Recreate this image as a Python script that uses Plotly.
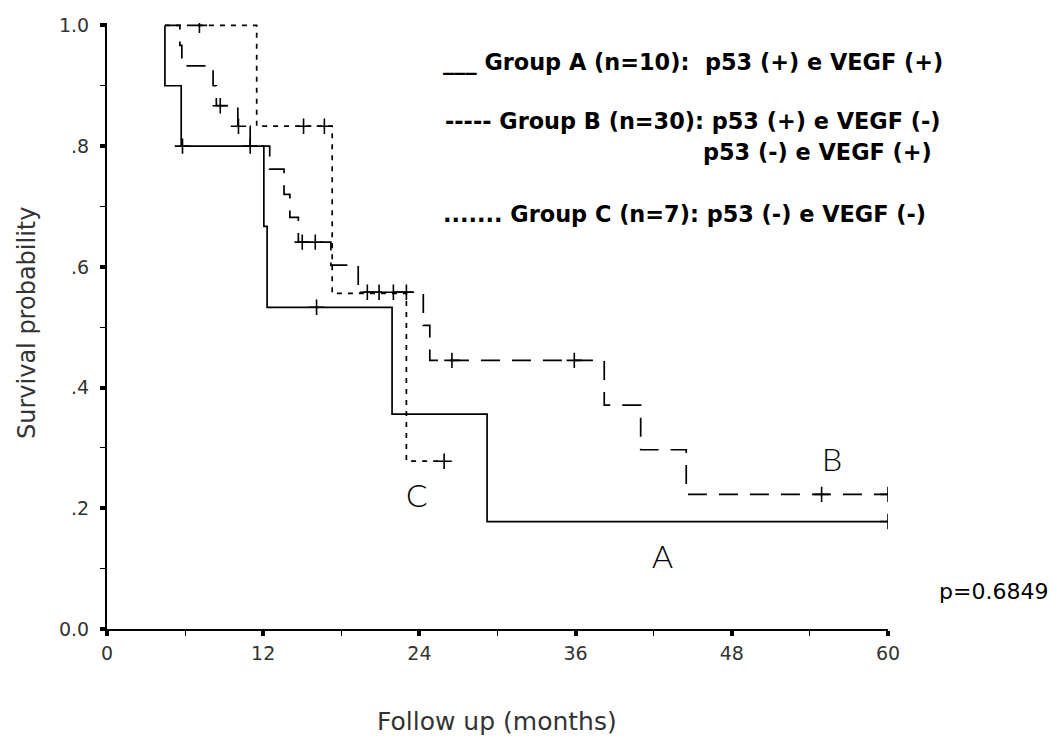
import plotly.graph_objects as go

# ---------------- data ----------------
start_t = 4.45

# Group A (solid)
a_event_t = [4.45, 5.7, 12.05, 12.3, 21.9, 29.2]
a_event_s = [0.9, 0.8, 0.667, 0.533, 0.356, 0.178]
a_end_t = 60
a_cens_t = [5.8, 11.0, 16.1, 60]
a_cens_s = [0.8, 0.8, 0.533, 0.178]

# Group B (dashed)
b_event_t = [5.6, 5.75, 8.15, 8.4, 10.05, 11.0, 12.5, 13.6, 14.05, 14.7,
             17.2, 19.3, 24.3, 24.8, 38.2, 41.0, 44.5]
b_event_s = [0.967, 0.933, 0.9, 0.867, 0.833, 0.8, 0.762, 0.72, 0.682, 0.641,
             0.603, 0.558, 0.503, 0.445, 0.371, 0.297, 0.223]
b_end_t = 60
b_cens_t = [8.7, 10.1, 15.0, 16.0, 20.0, 20.9, 22.0, 23.0, 26.5, 35.9, 54.9, 60]
b_cens_s = [0.867, 0.833, 0.641, 0.641, 0.558, 0.558, 0.558, 0.558, 0.445, 0.445, 0.223, 0.223]

# Group C (dotted)
c_event_t = [11.5, 17.3, 23.0]
c_event_s = [0.833, 0.556, 0.278]
c_end_t = 25.9
c_cens_t = [7.1, 15.1, 16.7, 25.9]
c_cens_s = [1.0, 0.833, 0.833, 0.278]

x_ticks = [0, 12, 24, 36, 48, 60]
x_minor = [6, 18, 30, 42, 54]
y_ticks = [0.0, 0.2, 0.4, 0.6, 0.8, 1.0]
y_ticktext = ["0.0", ".2", ".4", ".6", ".8", "1.0"]
y_minor = [0.1, 0.3, 0.5, 0.7, 0.9]

legend_lines = [
    "___ Group A (n=10):\u00a0 p53 (+) e VEGF (+)",
    "----- Group B (n=30): p53 (+) e VEGF (-)",
    "p53 (-) e VEGF (+)",
    "....... Group C (n=7): p53 (-) e VEGF (-)",
]
curve_labels = ["A", "B", "C"]
p_text = "p=0.6849"

# ---------------- geometry (page pixels; body has an 8px margin) ----------------
OFF = 8
FW, FH = 1050, 727
PL, PR, PT, PB = 107, 888, 23, 629          # plot area in page pixels
L, R = PL - OFF, FW - (PR - OFF)
T, B = PT - OFF, FH - (PB - OFF)
PW, PH = PR - PL, PB - PT


def px(xp):
    return (xp - PL) / PW


def py(yp):
    return (PB - yp) / PH


def step(ev_t, ev_s, end_t):
    xs = [start_t] + list(ev_t) + [end_t]
    ys = [1.0] + list(ev_s) + [ev_s[-1]]
    return xs, ys


fig = go.Figure()
LW = 1.7
groups = [
    (a_event_t, a_event_s, a_end_t, a_cens_t, a_cens_s, "solid"),
    (b_event_t, b_event_s, b_end_t, b_cens_t, b_cens_s, "19px,12px"),
    (c_event_t, c_event_s, c_end_t, c_cens_t, c_cens_s, "5px,6px"),
]
for ev_t, ev_s, end_t, ct, cs, dash in groups:
    xs, ys = step(ev_t, ev_s, end_t)
    fig.add_trace(go.Scatter(x=xs, y=ys, mode="lines", line_shape="hv",
                             line=dict(color="black", width=LW, dash=dash),
                             showlegend=False, hoverinfo="skip"))
    fig.add_trace(go.Scatter(x=ct, y=cs, mode="markers", cliponaxis=True,
                             marker=dict(symbol="cross-thin", size=11,
                                         line=dict(color="black", width=1.6)),
                             showlegend=False, hoverinfo="skip"))

tick_font = dict(family="DejaVu Sans", size=19, color="#333333")
fig.update_layout(
    width=FW, height=FH,
    margin=dict(l=L, r=R, t=T, b=B, autoexpand=False),
    paper_bgcolor="white", plot_bgcolor="white",
    xaxis=dict(range=[0, 60], tickmode="array", tickvals=x_ticks,
               ticks="outside", ticklen=5, tickwidth=4, tickcolor="black",
               showline=True, linecolor="black", linewidth=2,
               showgrid=False, zeroline=False, tickfont=tick_font,
               ticklabelstandoff=1,
               minor=dict(tickmode="array", tickvals=x_minor,
                          ticks="outside", ticklen=5, tickwidth=1,
                          tickcolor="black", showgrid=False)),
    yaxis=dict(range=[0, 1.004], tickmode="array", tickvals=y_ticks,
               ticktext=y_ticktext,
               ticks="outside", ticklen=5, tickwidth=4, tickcolor="black",
               showline=True, linecolor="black", linewidth=2,
               showgrid=False, zeroline=False, tickfont=tick_font,
               ticklabelstandoff=7,
               minor=dict(tickmode="array", tickvals=y_minor,
                          ticks="outside", ticklen=5, tickwidth=1,
                          tickcolor="black", showgrid=False)),
)

ann = []
# axis titles
ann.append(dict(text="Follow up (months)", x=px(497), y=py(721), xref="paper", yref="paper",
                xanchor="center", yanchor="middle", showarrow=False,
                font=dict(family="DejaVu Sans", size=25, color="#333333")))
ann.append(dict(text="Survival probability", x=px(27), y=py(323), xref="paper", yref="paper",
                xanchor="center", yanchor="middle", showarrow=False, textangle=-90,
                font=dict(family="DejaVu Sans", size=24, color="#333333")))
# legend block
leg_pos = [(441, 62), (443, 121), (701, 152), (441, 214)]
for txt, (lx, ly) in zip(legend_lines, leg_pos):
    ann.append(dict(text=txt, x=px(lx), y=py(ly), xref="paper", yref="paper",
                    xanchor="left", yanchor="middle", showarrow=False,
                    font=dict(family="DejaVu Sans", size=22.4, color="black", weight="bold")))
# curve letters
let_pos = [(662, 555), (832, 458), (417, 494)]
for txt, (lx, ly) in zip(curve_labels, let_pos):
    ann.append(dict(text=txt, x=px(lx), y=py(ly), xref="paper", yref="paper",
                    xanchor="center", yanchor="middle", showarrow=False,
                    font=dict(family="Lato", size=32, color="black", weight=300)))
# p value
ann.append(dict(text=p_text, x=px(937), y=py(591), xref="paper", yref="paper",
                xanchor="left", yanchor="middle", showarrow=False,
                font=dict(family="DejaVu Sans", size=22, color="black")))
fig.update_layout(annotations=ann)

fig.write_html("out.html")
